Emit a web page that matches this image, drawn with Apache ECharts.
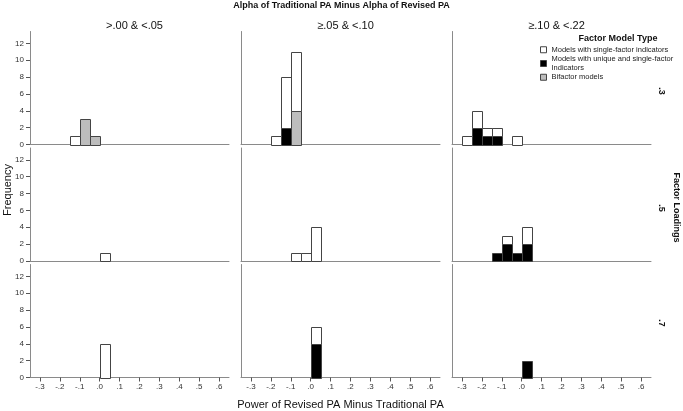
<!DOCTYPE html>
<html><head><meta charset="utf-8">
<script src="https://cdn.jsdelivr.net/npm/echarts@6/dist/echarts.min.js"></script>
<style>html,body{margin:0;padding:0;background:#fff}#c{width:683px;height:411px}</style>
</head><body><div id="c"></div>
<script>
// ---------- data ----------
const columnLabels = ['>.00 & <.05', '≥.05 & <.10', '≥.10 & <.22'];
const rowLabels = ['.3', '.5', '.7'];
const mainTitle = 'Alpha of Traditional PA Minus Alpha of Revised PA';
const xTitle = 'Power of Revised PA Minus Traditional PA';
const yTitle = 'Frequency';
const rowTitle = 'Factor Loadings';
const legendTitle = 'Factor Model Type';
const seriesNames = ['Models with single-factor indicators', 'Models with unique and single-factor Indicators', 'Bifactor models'];
const xTickValues = [-0.3, -0.2, -0.1, 0.0, 0.1, 0.2, 0.3, 0.4, 0.5, 0.6];
const xTickLabels = ['-.3', '-.2', '-.1', '.0', '.1', '.2', '.3', '.4', '.5', '.6'];
const yTickValues = [0, 2, 4, 6, 8, 10, 12];
const binWidth = 0.05;

// counts as [binStart, count], indexed [row][col]
const singleFactorCounts = [
  [ [[-0.15, 1]],
    [[-0.20, 1], [-0.15, 6], [-0.10, 7]],
    [[-0.30, 1], [-0.25, 2], [-0.20, 1], [-0.15, 1], [-0.05, 1]] ],
  [ [[0.00, 1]],
    [[-0.10, 1], [-0.05, 1], [0.00, 4]],
    [[-0.10, 1], [0.00, 2]] ],
  [ [[0.00, 4]],
    [[0.00, 2]],
    [] ]
];
const uniqueSingleCounts = [
  [ [],
    [[-0.15, 2]],
    [[-0.25, 2], [-0.20, 1], [-0.15, 1]] ],
  [ [],
    [],
    [[-0.15, 1], [-0.10, 2], [-0.05, 1], [0.00, 2]] ],
  [ [],
    [[0.00, 4]],
    [[0.00, 2]] ]
];
const bifactorCounts = [
  [ [[-0.10, 3], [-0.05, 1]],
    [[-0.10, 4]],
    [] ],
  [ [], [], [] ],
  [ [], [], [] ]
];

// ---------- styling / layout ----------
const FONT = 'Liberation Sans, Arial, sans-serif';
const fills = ['#ffffff', '#000000', '#bdbdbd'];
const strokeColor = '#444';
const axisColor = '#8a8a8a';
const gridLefts = [30, 241, 452];
const gridTops = [31.5, 148, 264.5];
const gridW = 199, gridH = 113;
const xMin = -0.35, xMax = 0.65, yMax = 13.4;

const countsByType = [singleFactorCounts, uniqueSingleCounts, bifactorCounts];
const stackOrder = [1, 2, 0]; // bottom -> top: unique, bifactor, single

const grids = [], xAxes = [], yAxes = [], series = [];
for (let r = 0; r < 3; r++) {
  for (let c = 0; c < 3; c++) {
    const p = r * 3 + c;
    grids.push({ left: gridLefts[c], top: gridTops[r], width: gridW, height: gridH });
    xAxes.push({
      type: 'value', gridIndex: p, min: xMin, max: xMax,
      axisLine: { show: true, onZero: false, lineStyle: { color: axisColor, width: 1 } },
      axisTick: { show: r === 2, customValues: xTickValues, length: 4, lineStyle: { color: '#555' } },
      axisLabel: { show: r === 2, customValues: xTickValues, fontSize: 8, color: '#333', fontFamily: FONT, margin: 5,
        formatter: v => { const i = xTickValues.findIndex(t => Math.abs(t - v) < 1e-6); return i >= 0 ? xTickLabels[i] : ''; } },
      splitLine: { show: false }
    });
    yAxes.push({
      type: 'value', gridIndex: p, min: 0, max: yMax,
      axisLine: { show: true, onZero: false, lineStyle: { color: axisColor, width: 1 } },
      axisTick: { show: c === 0, customValues: yTickValues, length: 4, lineStyle: { color: '#555' } },
      axisLabel: { show: c === 0, customValues: yTickValues, fontSize: 8, color: '#333', fontFamily: FONT, margin: 6 },
      splitLine: { show: false }
    });
    const base = {};
    stackOrder.forEach(t => {
      const data = countsByType[t][r][c].map(([b, n]) => {
        const key = b.toFixed(2);
        const y0 = base[key] || 0;
        base[key] = y0 + n;
        return [b, b + binWidth, y0, y0 + n];
      });
      series.push({
        type: 'custom', name: seriesNames[t], xAxisIndex: p, yAxisIndex: p,
        itemStyle: { color: fills[t], borderColor: strokeColor, borderWidth: 1 },
        encode: { x: [0, 1], y: [2, 3] },
        data: data,
        renderItem: (params, api) => {
          const a = api.coord([api.value(0), api.value(2)]);
          const b = api.coord([api.value(1), api.value(3)]);
          return { type: 'rect',
            shape: { x: Math.round(a[0]) + 0.5, y: Math.round(b[1]) + 0.5, width: Math.round(b[0]) - Math.round(a[0]), height: Math.round(a[1]) - Math.round(b[1]) },
            style: { fill: fills[t], stroke: strokeColor, lineWidth: 1 } };
        }
      });
    });
  }
}

const graphics = [];
const txt = (x, y, text, size, bold, rot) => graphics.push({
  type: 'text', x: x, y: y, rotation: rot || 0,
  style: { text: text, fontSize: size, fontWeight: bold ? 'bold' : 'normal', fontFamily: FONT, fill: '#111', align: 'center', verticalAlign: 'middle' }
});
txt(341.5, 6, mainTitle, 9, true);
columnLabels.forEach((l, i) => txt(gridLefts[i] + gridW / 2 + 5, 25.5, l, 11, false));
txt(618, 38.5, legendTitle, 9, true);
const rowLabelY = [91, 208, 323];
rowLabels.forEach((l, i) => txt(661, rowLabelY[i], l, 9, true, -Math.PI / 2));
txt(676, 207.5, rowTitle, 9, true, -Math.PI / 2);
txt(8, 190, yTitle, 11, false, Math.PI / 2);
txt(340.5, 405, xTitle, 11, false);

const legendOrder = [0, 1, 2];
const chart = echarts.init(document.getElementById('c'), null, { renderer: 'canvas' });
chart.setOption({
  animation: false,
  backgroundColor: '#ffffff',
  grid: grids, xAxis: xAxes, yAxis: yAxes, series: series,
  legend: {
    orient: 'vertical', left: 540, top: 45.5, itemWidth: 6, itemHeight: 6, itemGap: 1, icon: 'rect',
    selectedMode: false, padding: 0,
    textStyle: { fontSize: 7.5, lineHeight: 8.5, color: '#222', fontFamily: FONT },
    formatter: n => n === seriesNames[1] ? 'Models with unique and single-factor\nIndicators' : n,
    data: legendOrder.map(t => ({ name: seriesNames[t], itemStyle: { color: fills[t], borderColor: strokeColor, borderWidth: 1 } }))
  },
  graphic: graphics
});
</script></body></html>
